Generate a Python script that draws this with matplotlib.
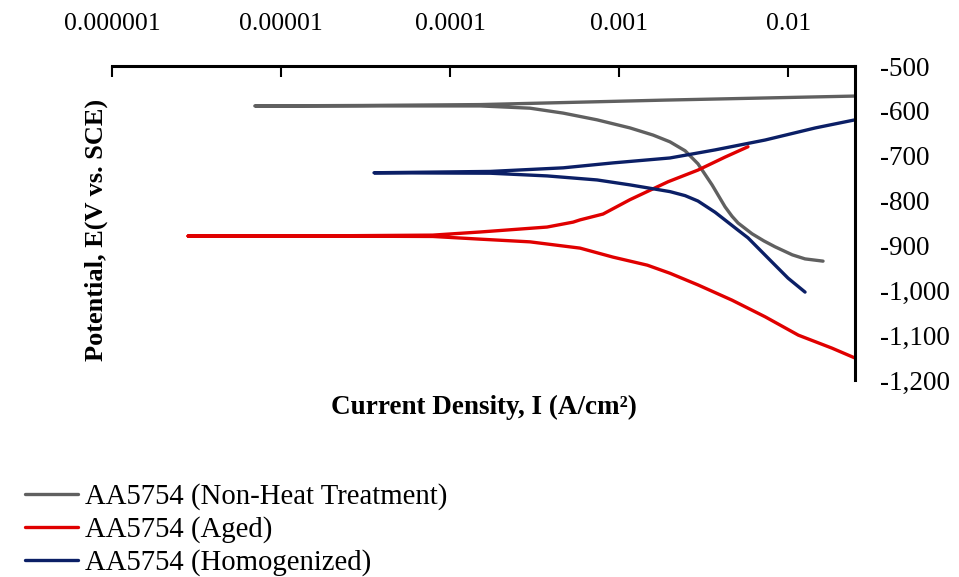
import matplotlib
matplotlib.use('Agg')
import matplotlib.pyplot as plt
from matplotlib.ticker import FixedLocator, FuncFormatter, NullLocator

plt.rcParams['font.family'] = ['Liberation Serif', 'DejaVu Serif']

# polarization curves: anodic branch (from high current down to Ecorr) then cathodic branch
nht_i = [0.0249, 1.87e-3, 1.51e-4, 3e-5, 7.0e-6,
         5e-5, 1.51e-4, 2.97e-4, 4.67e-4, 7.41e-4, 1.16e-3, 1.59e-3, 2.0e-3,
         2.46e-3, 2.93e-3, 3.55e-3, 4.24e-3, 4.66e-3, 5.06e-3, 6.12e-3, 7.2e-3,
         8.37e-3, 1.06e-2, 1.26e-2, 1.61e-2]
nht_e = [-567, -576, -586, -588, -589,
         -589, -589, -594, -605, -620, -638, -654, -669,
         -689, -718, -765, -814, -835, -850, -874, -890,
         -903, -921, -930, -935]

aged_i = [5.79e-3, 4.24e-3, 2.93e-3, 1.95e-3, 1.16e-3, 8.04e-4, 5.88e-4, 5.35e-4,
          3.75e-4, 1.51e-4, 7.9e-5, 1.29e-5, 2.82e-6,
          1.29e-5, 7.9e-5, 1.51e-4, 2.97e-4, 5.88e-4, 9.2e-4, 1.47e-3, 2.0e-3,
          2.93e-3, 4.66e-3, 7.31e-3, 1.15e-2, 1.82e-2, 0.0249]
aged_e = [-680, -703, -732, -758, -798, -830, -843, -848,
          -859, -870, -877, -879, -879,
          -879, -880, -886, -892, -906, -926, -944, -962,
          -988, -1022, -1059, -1100, -1129, -1151]

hom_i = [0.0249, 1.45e-2, 7.31e-3, 3.70e-3, 2.0e-3, 9.2e-4, 4.67e-4, 1.73e-4, 3.55e-5,
         1.73e-4, 3.75e-4, 7.41e-4, 1.16e-3, 2.0e-3, 2.46e-3, 2.93e-3, 3.70e-3,
         5.06e-3, 5.79e-3, 8.03e-3, 1.0e-2, 1.26e-2]
hom_e = [-620, -638, -665, -687, -705, -716, -727, -735, -738,
         -739, -745, -754, -765, -780, -789, -801, -826,
         -866, -883, -937, -973, -1004]

x_ticks = [1e-6, 1e-5, 1e-4, 1e-3, 1e-2]
x_labels = ['0.000001', '0.00001', '0.0001', '0.001', '0.01']
y_ticks = [-500, -600, -700, -800, -900, -1000, -1100, -1200]

fig = plt.figure(figsize=(9.59, 5.77), dpi=100)
ax = fig.add_axes([0.1168, 0.3414, 0.7748, 0.5442])

ax.plot(nht_i, nht_e, color='#606060', lw=2.4, solid_capstyle='round',
        solid_joinstyle='round', label='AA5754 (Non-Heat Treatment)')
ax.plot(aged_i, aged_e, color='#e00000', lw=2.4, solid_capstyle='round',
        solid_joinstyle='round', label='AA5754 (Aged)')
ax.plot(hom_i, hom_e, color='#0b1f66', lw=2.4, solid_capstyle='round',
        solid_joinstyle='round', label='AA5754 (Homogenized)')

ax.set_xscale('log')
ax.set_xlim(1e-6, 0.0249)
ax.set_ylim(-1200, -500)

ax.xaxis.set_ticks_position('top')
ax.xaxis.set_major_locator(FixedLocator(x_ticks))
ax.xaxis.set_minor_locator(NullLocator())
ax.set_xticklabels(x_labels)
ax.tick_params(axis='x', direction='in', length=8, width=1.5, pad=22, labelsize=18.5)

ax.yaxis.set_ticks_position('right')
ax.yaxis.set_major_locator(FixedLocator(y_ticks))
ax.yaxis.set_major_formatter(FuncFormatter(lambda v, p: '{:,.0f}'.format(v)))
ax.tick_params(axis='y', length=0, pad=18, labelsize=19.5)

for s in ['left', 'bottom']:
    ax.spines[s].set_visible(False)
for s in ['top', 'right']:
    ax.spines[s].set_linewidth(2.2)

ax.set_xlabel('Current Density, I (A/cm²)', fontsize=19.5, fontweight='bold')
ax.xaxis.set_label_position('bottom')
ax.xaxis.set_label_coords(0.5, -0.048)
ax.set_ylabel('Potential, E(V vs. SCE)', fontsize=19, fontweight='bold')
ax.yaxis.set_label_position('left')
ax.yaxis.set_label_coords(-0.005, 0.478)

fig.legend(loc='upper left', bbox_to_anchor=(0.026, 0.162), frameon=False,
           fontsize=20.7, handlelength=1.85, handletextpad=0.25,
           labelspacing=0.21, borderaxespad=0, borderpad=0)

fig.savefig('out.png', dpi=100)
